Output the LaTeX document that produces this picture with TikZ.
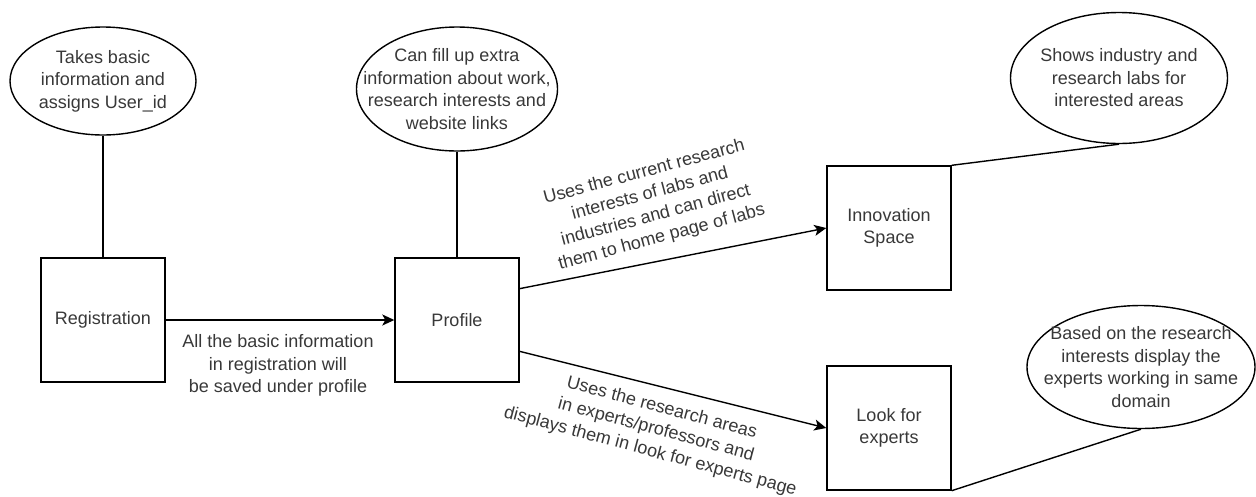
\documentclass[tikz,border=0pt]{standalone}
\usepackage{fontspec}
\setmainfont{Liberation Sans}
\usetikzlibrary{shapes.geometric,arrows.meta,calc}
\begin{document}
\begin{tikzpicture}[x=1pt,y=-1pt,
  line width=1.4pt,
  txt/.style={text=black!78, font=\fontsize{18}{22.5}\selectfont, align=center, inner sep=0pt},
  boxnode/.style={draw, minimum width=124pt, minimum height=124pt, txt},
  note/.style={draw, ellipse, inner sep=0pt},
  arr/.style={-{Stealth[length=12pt,width=11pt,inset=3pt]}},
]
\useasboundingbox (0,0) rectangle (1256,496);
% boxes
\node[boxnode] (reg) at (103,320) {Registration};
\node[boxnode] (prof) at (457,320) {Profile};
\node[boxnode] (innov) at (889,228) {Innovation\\Space};
\node[boxnode] (look) at (889,428) {Look for\\experts};
% notes
\node[note, minimum width=186pt, minimum height=108pt] (e1) at (103,81) {};
\node[txt] (t1) at (e1.center) {Takes basic\\information and\\assigns User\_id};
\node[note, minimum width=201pt, minimum height=124pt] (e2) at (457,89) {};
\node[txt] (t2) at (e2.center) {Can fill up extra\\information about work,\\research interests and\\website links};
\node[note, minimum width=217pt, minimum height=131pt] (e3) at (1119,78) {};
\node[txt] (t3) at (e3.center) {Shows industry and\\research labs for\\interested areas};
\node[note, minimum width=228pt, minimum height=123pt] (e4) at (1141,367) {};
\node[txt] (t4) at (e4.center) {Based on the research\\interests display the\\experts working in same\\domain};
% connectors
\draw (e1.south) -- (reg.north);
\draw (e2.south) -- (prof.north);
\draw (innov.north east) -- (e3.south);
\draw (look.south east) -- (e4.south);
\draw[arr] (reg.east) -- (prof.west);
\coordinate (pu) at ($(prof.north east)!0.25!(prof.south east)$);
\coordinate (pl) at ($(prof.north east)!0.75!(prof.south east)$);
\draw[arr] (pu) -- (innov.west);
\draw[arr] (pl) -- (look.west);
% edge labels
\node[txt] (l1) at (278,365.5) {All the basic information\\in registration will\\be saved under profile};
\node[txt, rotate=15] (l2) at (653,205) {Uses the current research\\interests of labs and\\industries and can direct\\them to home page of labs};
\node[txt, rotate=-15] (l3) at (656,430) {Uses the research areas\\in experts/professors and\\displays them in look for experts page};
\end{tikzpicture}
\end{document}
